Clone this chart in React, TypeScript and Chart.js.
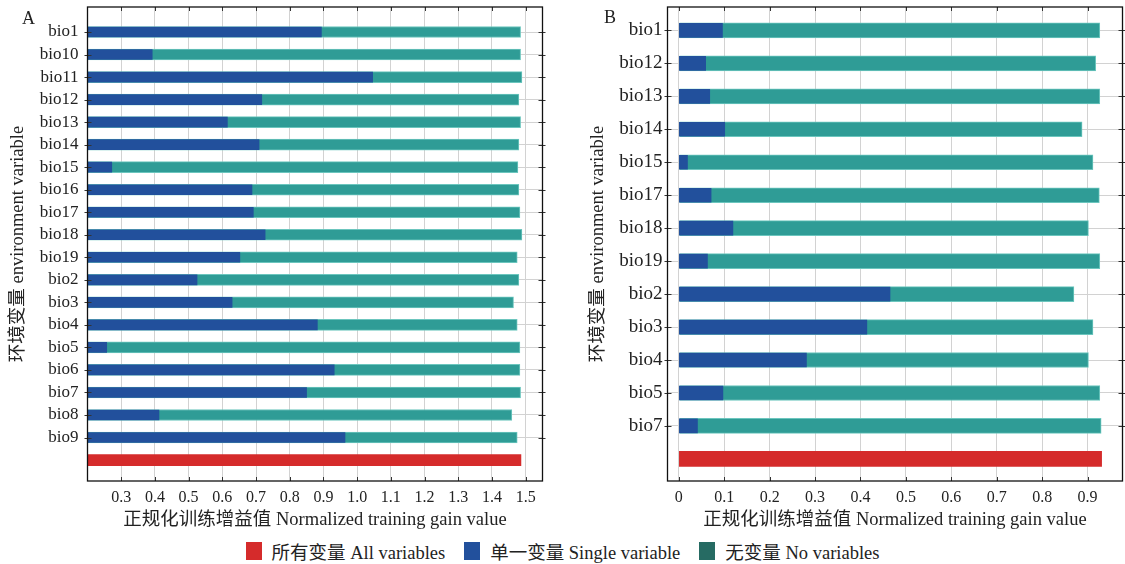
import React, { useEffect, useRef } from 'react';
import { Chart, registerables } from 'chart.js';

Chart.register(...registerables);

// ---------- Data ----------
const leftCategories = ['bio1', 'bio10', 'bio11', 'bio12', 'bio13', 'bio14', 'bio15', 'bio16', 'bio17', 'bio18', 'bio19', 'bio2', 'bio3', 'bio4', 'bio5', 'bio6', 'bio7', 'bio8', 'bio9'];
const leftSingle = [0.894, 0.392, 1.046, 0.717, 0.615, 0.709, 0.272, 0.688, 0.692, 0.727, 0.652, 0.525, 0.629, 0.882, 0.257, 0.932, 0.85, 0.412, 0.964];
const leftNone = [1.485, 1.485, 1.489, 1.48, 1.485, 1.48, 1.477, 1.48, 1.483, 1.489, 1.475, 1.48, 1.464, 1.475, 1.483, 1.483, 1.485, 1.459, 1.475];
const leftAll = 1.486;
const leftTicks = [0.3, 0.4, 0.5, 0.6, 0.7, 0.8, 0.9, 1.0, 1.1, 1.2, 1.3, 1.4, 1.5];

const rightCategories = ['bio1', 'bio12', 'bio13', 'bio14', 'bio15', 'bio17', 'bio18', 'bio19', 'bio2', 'bio3', 'bio4', 'bio5', 'bio7'];
const rightSingle = [0.096, 0.059, 0.068, 0.101, 0.019, 0.071, 0.119, 0.063, 0.465, 0.414, 0.281, 0.097, 0.041];
const rightNone = [0.927, 0.918, 0.927, 0.888, 0.912, 0.926, 0.902, 0.927, 0.87, 0.912, 0.902, 0.927, 0.93];
const rightAll = 0.931;
const rightTicks = [0, 0.1, 0.2, 0.3, 0.4, 0.5, 0.6, 0.7, 0.8, 0.9];

const legendLabels = ['所有变量 All variables', '单一变量 Single variable', '无变量 No variables'];
const xTitle = '正规化训练增益值 Normalized training gain value';
const yTitle = '环境变量 environment variable';

// ---------- Style ----------
const FONT = "'Liberation Serif', 'Times New Roman', 'Noto Sans CJK SC', serif";
const RED = '#D52B2B';
const BLUE = '#22509C';
const TEAL = '#2F9C96';
const TEAL_EDGE = '#6CC6BE';
const LEGEND_TEAL = '#266B63';
const GRID = '#d2d2d2';

const framePlugin = {
  id: 'frame',
  afterDraw(chart: any) {
    const { ctx, chartArea: a, scales } = chart;
    ctx.save();
    ctx.strokeStyle = '#333';
    ctx.lineWidth = 1;
    const L = 4;
    scales.x.ticks.forEach((t: any) => {
      const px = Math.round(scales.x.getPixelForValue(t.value)) + 0.5;
      ctx.beginPath();
      ctx.moveTo(px, a.bottom);
      ctx.lineTo(px, a.bottom - L);
      ctx.moveTo(px, a.top);
      ctx.lineTo(px, a.top + L);
      ctx.stroke();
    });
    scales.y.ticks.forEach((t: any) => {
      const py = Math.round(scales.y.getPixelForValue(t.value)) + 0.5;
      ctx.beginPath();
      ctx.moveTo(a.left - 3, py);
      ctx.lineTo(a.left + L, py);
      ctx.moveTo(a.right + 3, py);
      ctx.lineTo(a.right - L, py);
      ctx.stroke();
    });
    ctx.strokeStyle = '#111';
    ctx.lineWidth = 1.3;
    ctx.strokeRect(a.left, a.top, a.right - a.left, a.bottom - a.top);
    ctx.restore();
  },
};

type Cfg = {
  categories: string[];
  single: number[];
  none: number[];
  all: number;
  ticks: number[];
  xMin: number;
  xMax: number;
  yMin: number;
  yMax: number;
  barThickness: number;
  yAxisWidth: number;
  padRight: number;
  yLabelPad: number;
  yLabelSize: number;
  yTitlePad: number;
};

function makeChart(canvas: HTMLCanvasElement, c: Cfg) {
  const n = c.categories.length;
  const tickFont = { family: FONT, size: 16 };
  const labelFont = { family: FONT, size: c.yLabelSize };
  const titleFont = { family: FONT, size: 18.5 };
  return new Chart(canvas, {
    type: 'bar',
    data: {
      datasets: [
        {
          label: legendLabels[1],
          data: c.single.map((v, i) => ({ x: v, y: i })),
          backgroundColor: BLUE,
          borderWidth: 0,
          barThickness: c.barThickness - 1,
        },
        {
          label: legendLabels[2],
          data: c.none.map((v, i) => ({ x: v, y: i })),
          backgroundColor: TEAL,
          borderColor: TEAL_EDGE,
          borderWidth: 1,
          barThickness: c.barThickness,
        },
        {
          label: legendLabels[0],
          data: [{ x: c.all, y: n }],
          backgroundColor: RED,
          borderWidth: 0,
          barThickness: c.barThickness,
        },
      ],
    },
    options: {
      indexAxis: 'y',
      responsive: false,
      animation: false,
      devicePixelRatio: 1,
      grouped: false,
      layout: { padding: { top: 7, right: c.padRight, left: 0, bottom: 0 } },
      plugins: { legend: { display: false }, tooltip: { enabled: false } },
      scales: {
        x: {
          type: 'linear',
          min: c.xMin,
          max: c.xMax,
          offset: false,
          afterBuildTicks: (s: any) => {
            s.ticks = c.ticks.map((v) => ({ value: v }));
          },
          afterFit: (s: any) => {
            s.height = 54;
            s.paddingLeft = 0;
            s.paddingRight = 0;
          },
          ticks: {
            font: tickFont,
            color: '#222',
            padding: 7,
            maxRotation: 0,
            autoSkip: false,
            callback: (v: any) => (Number(v) === 0 ? '0' : Number(v).toFixed(1)),
          },
          grid: { color: GRID, drawTicks: false, lineWidth: 1, offset: false },
          border: { display: false },
          title: {
            display: true,
            text: xTitle,
            font: titleFont,
            color: '#222',
            padding: { top: 0, bottom: 4 },
          },
        },
        y: {
          type: 'linear',
          reverse: true,
          min: c.yMin,
          max: c.yMax,
          offset: false,
          afterBuildTicks: (s: any) => {
            s.ticks = c.categories.map((_, i) => ({ value: i }));
          },
          afterFit: (s: any) => {
            s.width = c.yAxisWidth;
            s.paddingTop = 0;
            s.paddingBottom = 0;
          },
          ticks: {
            font: labelFont,
            color: '#222',
            padding: c.yLabelPad,
            autoSkip: false,
            callback: (v: any) => c.categories[Number(v)] ?? '',
          },
          grid: { color: GRID, drawTicks: false, lineWidth: 1, offset: false },
          border: { display: false },
          title: {
            display: true,
            text: yTitle,
            font: titleFont,
            color: '#222',
            padding: { top: c.yTitlePad, bottom: 0 },
          },
        },
      },
    },
    plugins: [framePlugin],
  } as any);
}

function ChartCanvas({ cfg, left, width }: { cfg: Cfg; left: number; width: number }) {
  const ref = useRef<HTMLCanvasElement>(null);
  useEffect(() => {
    if (!ref.current) return;
    const chart = makeChart(ref.current, cfg);
    return () => chart.destroy();
  }, []);
  return (
    <canvas
      ref={ref}
      width={width}
      height={535}
      style={{ position: 'absolute', left, top: 0, width, height: 535 }}
    />
  );
}

const leftCfg: Cfg = {
  categories: leftCategories,
  single: leftSingle,
  none: leftNone,
  all: leftAll,
  ticks: leftTicks,
  xMin: 0.2,
  xMax: 1.55,
  yMin: -1.11,
  yMax: 19.93,
  barThickness: 11,
  yAxisWidth: 87.5,
  padRight: 17.5,
  yLabelPad: 9,
  yLabelSize: 17,
  yTitlePad: 7,
};

const rightCfg: Cfg = {
  categories: rightCategories,
  single: rightSingle,
  none: rightNone,
  all: rightAll,
  ticks: rightTicks,
  xMin: -0.025,
  xMax: 0.977,
  yMin: -0.71,
  yMax: 13.67,
  barThickness: 15,
  yAxisWidth: 107.5,
  padRight: 2.5,
  yLabelPad: 5,
  yLabelSize: 19,
  yTitlePad: 27,
};

export default function App() {
  const legendColors = [RED, BLUE, LEGEND_TEAL];
  return (
    <div
      style={{
        position: 'absolute',
        left: 0,
        top: 0,
        width: 1125,
        height: 564,
        background: '#fff',
        fontFamily: FONT,
        color: '#222',
      }}
    >
      <ChartCanvas cfg={leftCfg} left={0} width={560} />
      <ChartCanvas cfg={rightCfg} left={560} width={565} />
      <div style={{ position: 'absolute', left: 22, top: 7, fontSize: 18, lineHeight: '22px' }}>A</div>
      <div style={{ position: 'absolute', left: 604, top: 6, fontSize: 18, lineHeight: '22px' }}>B</div>
      <div
        style={{
          position: 'absolute',
          left: 0,
          top: 540,
          width: 1125,
          height: 22,
          display: 'flex',
          justifyContent: 'center',
          alignItems: 'center',
          fontSize: 18.5,
        }}
      >
        {legendLabels.map((l, i) => (
          <div key={l} style={{ display: 'flex', alignItems: 'center', marginLeft: i === 0 ? 0 : 19 }}>
            <span style={{ display: 'inline-block', width: 16, height: 18, background: legendColors[i], marginRight: 10 }} />
            <span>{l}</span>
          </div>
        ))}
      </div>
    </div>
  );
}
